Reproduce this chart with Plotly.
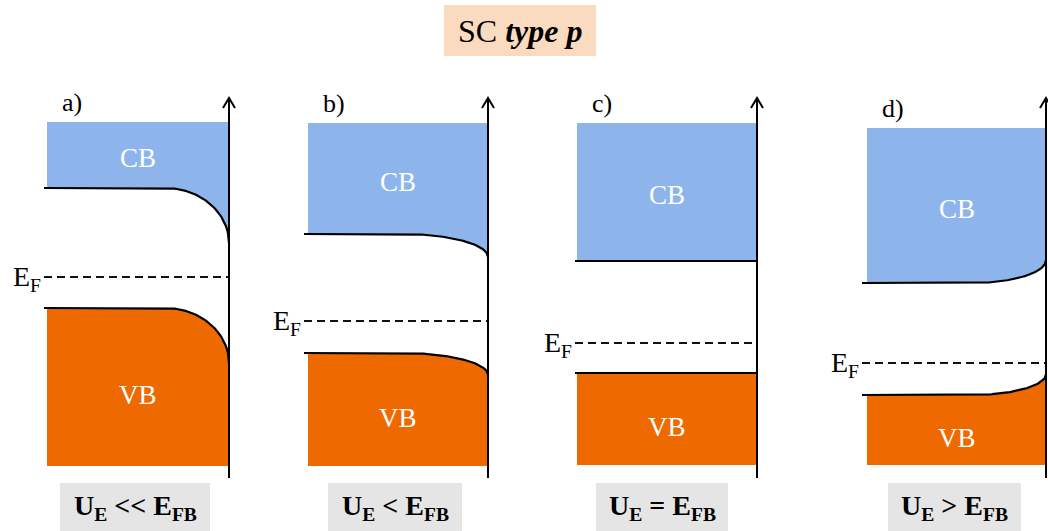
import numpy as np
import plotly.graph_objects as go

# band diagram values (pixel-like units, y grows downward)
panel_tags = ["a)", "b)", "c)", "d)"]
conditions = ["U<sub>E</sub> << E<sub>FB</sub>", "U<sub>E</sub> < E<sub>FB</sub>",
              "U<sub>E</sub> = E<sub>FB</sub>", "U<sub>E</sub> > E<sub>FB</sub>"]
axis_x = [229, 488, 757, 1046]
fill_left = [47, 308, 577, 867]
line_left = [44, 304, 575, 862]
bend_start = [165, 402, 757, 972]
cb_top = [122, 123, 123, 128]
cb_flat = [188, 234, 261, 283]
cb_surface = [243, 257, 261, 260]
vb_flat = [308, 353, 373, 395]
vb_surface = [363, 375, 373, 374]
vb_bottom = [466, 466, 465, 465]
fermi = [277, 321, 343, 363]
box_left = [60, 328, 596, 888]
box_right = [210, 462, 728, 1021]

CB_COL = "#8DB5EC"
VB_COL = "#EE6A00"
FONT = "Liberation Serif"

fig = go.Figure()


def band_curve(xl, xs, xa, flat, surf, n=60):
    xs_ = min(xs, xa)
    t = np.linspace(0, 1, n)
    xc = xs_ + (xa - xs_) * t
    yc = flat + (surf - flat) * (1 - np.sqrt(np.clip(1 - t ** 2, 0, 1)))
    return np.concatenate([[xl], xc]), np.concatenate([[flat], yc])


for i in range(4):
    xa = axis_x[i]
    # conduction band fill
    cx, cy = band_curve(fill_left[i], bend_start[i], xa, cb_flat[i], cb_surface[i])
    px = np.concatenate([[fill_left[i], xa], cx[::-1]])
    py = np.concatenate([[cb_top[i], cb_top[i]], cy[::-1]])
    fig.add_trace(go.Scatter(x=px, y=py, fill="toself", fillcolor=CB_COL, mode="none",
                             hoverinfo="skip"))
    # valence band fill
    vx, vy = band_curve(fill_left[i], bend_start[i], xa, vb_flat[i], vb_surface[i])
    px = np.concatenate([[fill_left[i], xa], vx[::-1]])
    py = np.concatenate([[vb_bottom[i], vb_bottom[i]], vy[::-1]])
    fig.add_trace(go.Scatter(x=px, y=py, fill="toself", fillcolor=VB_COL, mode="none",
                             hoverinfo="skip"))
    # band edges
    for flat, surf in [(cb_flat[i], cb_surface[i]), (vb_flat[i], vb_surface[i])]:
        lx, ly = band_curve(line_left[i], bend_start[i], xa, flat, surf)
        fig.add_trace(go.Scatter(x=lx, y=ly, mode="lines", line=dict(color="black", width=2.2),
                                 hoverinfo="skip"))
    # fermi level
    fig.add_trace(go.Scatter(x=[line_left[i], xa], y=[fermi[i], fermi[i]], mode="lines",
                             line=dict(color="#111", width=2.2, dash="8px,5px"), hoverinfo="skip"))
    fig.add_annotation(x=line_left[i] - 1, y=fermi[i] + 1, text="E<sub>F</sub>", showarrow=False,
                       xanchor="right", yanchor="middle", font=dict(family=FONT, size=28, color="black"))
    # energy axis with open arrow head
    fig.add_trace(go.Scatter(x=[xa, xa], y=[478, 98], mode="lines",
                             line=dict(color="black", width=2), hoverinfo="skip"))
    fig.add_trace(go.Scatter(x=[xa - 6, xa, xa + 6], y=[108, 98, 108], mode="lines",
                             line=dict(color="black", width=2), hoverinfo="skip"))
    # labels
    mid = (fill_left[i] + xa) / 2
    fig.add_annotation(x=mid, y=(cb_top[i] + cb_flat[i]) / 2 + 3, text="CB", showarrow=False,
                       font=dict(family=FONT, size=27, color="white"))
    fig.add_annotation(x=mid, y=(vb_flat[i] + vb_bottom[i]) / 2 + 8, text="VB", showarrow=False,
                       font=dict(family=FONT, size=27, color="white"))
    fig.add_annotation(x=fill_left[i] + 13, y=cb_top[i] - 20, text=panel_tags[i], showarrow=False,
                       xanchor="left", font=dict(family=FONT, size=26, color="black"))
    # condition box
    fig.add_shape(type="rect", x0=box_left[i], x1=box_right[i], y0=483, y1=535,
                  fillcolor="#E5E5E5", line=dict(width=0), layer="below")
    fig.add_annotation(x=(box_left[i] + box_right[i]) / 2, y=507, text="<b>" + conditions[i] + "</b>",
                       showarrow=False, font=dict(family=FONT, size=28, color="black"))

# title
fig.add_shape(type="rect", x0=444, x1=596, y0=5, y1=56, fillcolor="#FBDBBF",
              line=dict(width=0), layer="below")
fig.add_annotation(x=520, y=31, text="SC <b><i>type p</i></b>", showarrow=False,
                   font=dict(family=FONT, size=32, color="black"))

fig.update_xaxes(range=[0, 1048], visible=False)
fig.update_yaxes(range=[531, 0], visible=False)
fig.update_layout(width=1048, height=531, margin=dict(l=0, r=0, t=0, b=0),
                  showlegend=False, plot_bgcolor="white", paper_bgcolor="white")

# drop the page's default body margin so the figure sits at the window origin
fig.write_html("out.html", config={"displayModeBar": False},
               post_script="document.body.style.margin='0';document.body.style.overflow='hidden';")
